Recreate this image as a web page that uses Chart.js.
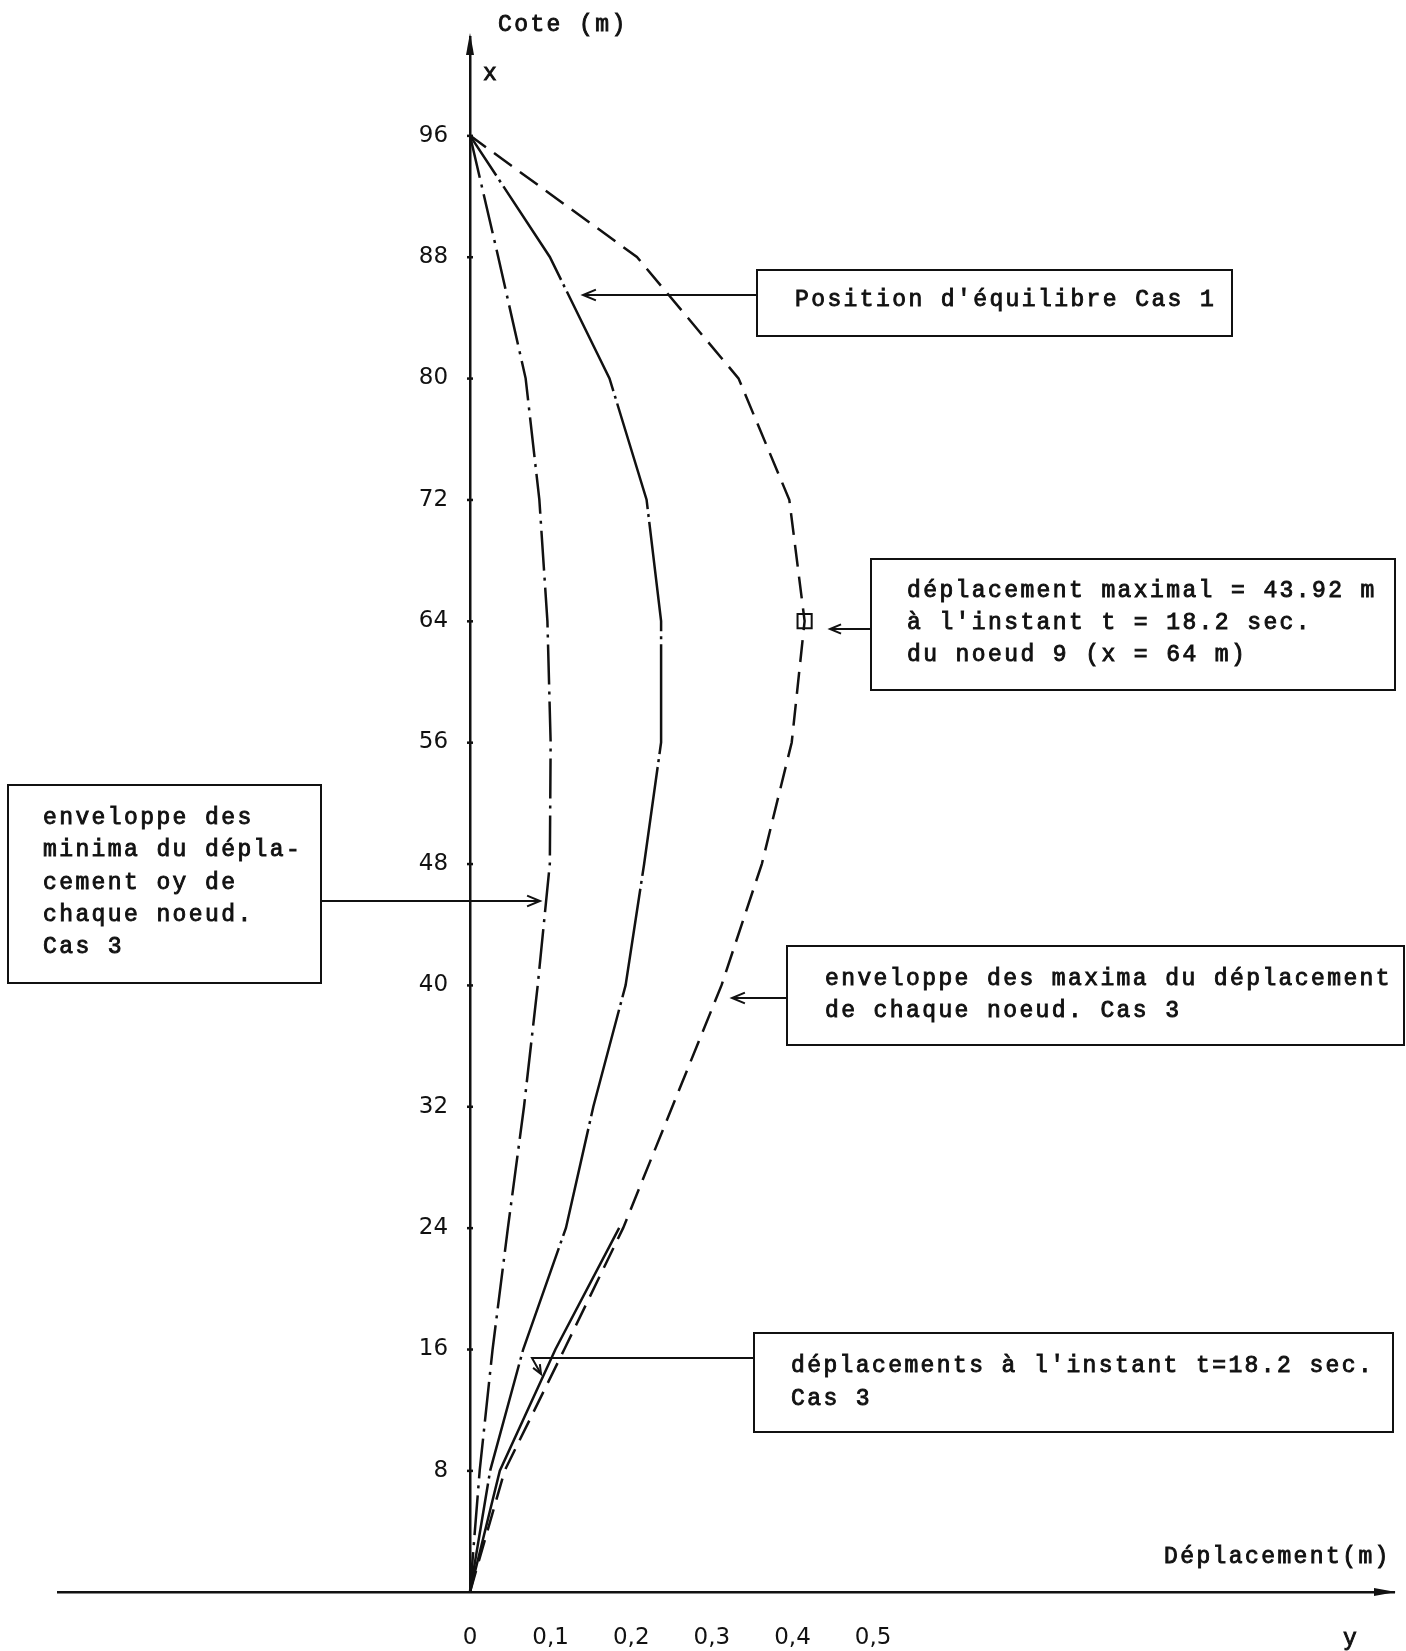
<!DOCTYPE html>
<html>
<head>
<meta charset="utf-8">
<title>Déplacements - Cas 1 / Cas 3</title>
<script src="https://cdn.jsdelivr.net/npm/chart.js@4/dist/chart.umd.min.js"></script>
<style>
  html, body { margin: 0; padding: 0; background: #fff; }
  #wrap { width: 1406px; height: 1651px; }
</style>
</head>
<body>
<div id="wrap"><canvas id="graphe" width="1406" height="1651"></canvas></div>
<script>
// cotes des noeuds (m)
const cotes = [0, 8, 16, 24, 32, 40, 48, 56, 64, 72, 80, 88, 96];
// enveloppe des minima du deplacement oy, Cas 3
const minima = [0, 0.012, 0.028, 0.047, 0.067, 0.084, 0.099, 0.100, 0.096, 0.086, 0.069, 0.035, 0];
// position d'equilibre, Cas 1
const equilibre = [0, 0.025, 0.066, 0.119, 0.153, 0.193, 0.216, 0.237, 0.237, 0.219, 0.173, 0.099, 0];
// enveloppe des maxima, Cas 3
const maxima = [0, 0.043, 0.117, 0.190, 0.251, 0.312, 0.362, 0.399, 0.415, 0.396, 0.333, 0.207, 0];
// deplacements a t = 18.2 s (Cas 3) - plus haut il se confond avec l'enveloppe des maxima
const cotesInstant = [0, 8, 16, 24];
const instant = [0, 0.037, 0.106, 0.185];
// deplacement maximal, noeud 9
const noeudMax = [{ x: 0.415, y: 64 }];

// graduations
const xTicks = [0, 0.1, 0.2, 0.3, 0.4, 0.5];
const xTickLabels = ['0', '0,1', '0,2', '0,3', '0,4', '0,5'];
const yTicks = [8, 16, 24, 32, 40, 48, 56, 64, 72, 80, 88, 96];

const points = (xs, ys) => xs.map((v, i) => ({ x: v, y: ys[i] }));

const MONO = '23px "Liberation Mono", "DejaVu Sans Mono", monospace';
const PAS = 16.2; // pas de la machine a ecrire

// texte caractere par caractere (chasse fixe large)
function texte(ctx, str, x, y) {
  for (let i = 0; i < str.length; i++) {
    ctx.fillText(str[i], x + i * PAS, y);
    ctx.strokeText(str[i], x + i * PAS, y);
  }
}

// fleche ouverte au dernier point
function fleche(ctx, pts, taille) {
  ctx.beginPath();
  ctx.moveTo(pts[0][0], pts[0][1]);
  for (let i = 1; i < pts.length; i++) ctx.lineTo(pts[i][0], pts[i][1]);
  ctx.stroke();
  const [xa, ya] = pts[pts.length - 2];
  const [xb, yb] = pts[pts.length - 1];
  const ang = Math.atan2(yb - ya, xb - xa);
  const t = taille || 14;
  ctx.beginPath();
  ctx.moveTo(xb - t * Math.cos(ang - 0.4), yb - t * Math.sin(ang - 0.4));
  ctx.lineTo(xb, yb);
  ctx.lineTo(xb - t * Math.cos(ang + 0.4), yb - t * Math.sin(ang + 0.4));
  ctx.stroke();
}

// pointe pleine allongee en bout d'axe
function pointe(ctx, x, y, dir) {
  ctx.beginPath();
  if (dir === 'haut') {
    ctx.moveTo(x, y); ctx.lineTo(x - 4, y + 22); ctx.lineTo(x + 4, y + 22);
  } else {
    ctx.moveTo(x, y); ctx.lineTo(x - 22, y - 4); ctx.lineTo(x - 22, y + 4);
  }
  ctx.closePath();
  ctx.fill();
}

const habillage = {
  id: 'habillage',
  afterDraw(chart) {
    const ctx = chart.ctx;
    const area = chart.chartArea;
    const x0 = chart.scales.x.getPixelForValue(0);
    const y0 = chart.scales.y.getPixelForValue(0);
    ctx.save();
    ctx.strokeStyle = '#111';
    ctx.fillStyle = '#111';

    // pointes des axes
    pointe(ctx, x0, area.top - 4, 'haut');
    pointe(ctx, area.right + 2, y0, 'droite');

    // petites marques sur l'axe vertical
    yTicks.forEach(v => {
      const py = chart.scales.y.getPixelForValue(v);
      ctx.fillRect(x0 - 3, py - 1, 6, 2.5);
    });

    // textes des axes
    ctx.font = MONO;
    ctx.lineWidth = 0.9;
    ctx.textBaseline = 'middle';
    ctx.textAlign = 'left';
    texte(ctx, 'Cote (m)', 498, 25);
    texte(ctx, 'x', 483, 74);
    texte(ctx, 'Déplacement(m)', 1164, 1557);
    texte(ctx, 'y', 1343, 1639);

    // cadres
    ctx.lineWidth = 2;
    ctx.strokeRect(757, 270, 475, 66);
    ctx.strokeRect(871, 559, 524, 131);
    ctx.strokeRect(8, 785, 313, 198);
    ctx.strokeRect(787, 946, 617, 99);
    ctx.strokeRect(754, 1333, 639, 99);

    // fleches de rappel
    fleche(ctx, [[757, 295], [583, 295]]);
    fleche(ctx, [[871, 629], [830, 629]], 12);
    fleche(ctx, [[321, 901], [540, 901]]);
    fleche(ctx, [[787, 998], [732, 998]]);
    fleche(ctx, [[754, 1358], [532, 1358], [541, 1374]], 10);

    // textes des cadres
    ctx.lineWidth = 0.9;
    texte(ctx, "Position d'équilibre Cas 1", 795, 300);
    texte(ctx, 'déplacement maximal = 43.92 m', 907, 591);
    texte(ctx, "à l'instant t = 18.2 sec.", 907, 623);
    texte(ctx, 'du noeud 9 (x = 64 m)', 907, 655);
    ['enveloppe des', 'minima du dépla-', 'cement oy de', 'chaque noeud.', 'Cas 3']
      .forEach((l, i) => texte(ctx, l, 43, 818 + i * 32.3));
    texte(ctx, 'enveloppe des maxima du déplacement', 825, 979);
    texte(ctx, 'de chaque noeud. Cas 3', 825, 1011);
    texte(ctx, "déplacements à l'instant t=18.2 sec.", 791, 1366);
    texte(ctx, 'Cas 3', 791, 1399);
    ctx.restore();
  }
};

const ctx = document.getElementById('graphe');
new Chart(ctx, {
  type: 'scatter',
  data: {
    datasets: [
      {
        label: 'enveloppe des minima (Cas 3)',
        data: points(minima, cotes),
        showLine: true,
        borderColor: '#111',
        borderWidth: 2.5,
        borderDash: [40, 7, 3, 7],
        pointRadius: 0
      },
      {
        label: "Position d'équilibre Cas 1",
        data: points(equilibre, cotes),
        showLine: true,
        borderColor: '#111',
        borderWidth: 2.5,
        borderDash: [110, 5, 3, 5],
        pointRadius: 0
      },
      {
        label: 'enveloppe des maxima (Cas 3)',
        data: points(maxima, cotes),
        showLine: true,
        borderColor: '#111',
        borderWidth: 2.5,
        borderDash: [22, 10],
        pointRadius: 0
      },
      {
        label: 'déplacements à t=18.2 sec. (Cas 3)',
        data: points(instant, cotesInstant),
        showLine: true,
        borderColor: '#111',
        borderWidth: 2.5,
        pointRadius: 0
      },
      {
        label: 'déplacement maximal',
        data: noeudMax,
        showLine: false,
        pointStyle: 'rect',
        pointRadius: 10,
        borderColor: '#111',
        borderWidth: 2,
        backgroundColor: '#fff'
      }
    ]
  },
  options: {
    responsive: false,
    devicePixelRatio: 1,
    animation: false,
    layout: { padding: { left: 58, right: 5, top: 37, bottom: 0 } },
    plugins: {
      legend: { display: false },
      tooltip: { enabled: false }
    },
    scales: {
      x: {
        type: 'linear',
        position: 'bottom',
        min: -0.511,
        max: 1.146,
        afterFit: s => { s.height = 59; },
        afterBuildTicks: s => { s.ticks = xTicks.map(v => ({ value: v })); },
        grid: { display: true, drawOnChartArea: false, drawTicks: false },
        border: { display: true, color: '#111', width: 2.5 },
        ticks: {
          padding: 32,
          maxRotation: 0,
          autoSkip: false,
          color: '#111',
          font: { family: '"DejaVu Sans", sans-serif', size: 23 },
          callback: (v, i) => xTickLabels[i]
        }
      },
      y: {
        type: 'linear',
        position: { x: 0 },
        min: 0,
        max: 102.5,
        afterFit: s => { s.width = 0; },
        afterBuildTicks: s => { s.ticks = yTicks.map(v => ({ value: v })); },
        grid: { display: true, drawOnChartArea: false, drawTicks: false },
        border: { display: true, color: '#111', width: 2.5 },
        ticks: {
          padding: 0,
          autoSkip: false,
          color: '#111',
          font: { family: '"DejaVu Sans", sans-serif', size: 23 },
          // espace pour ecarter le chiffre de l'axe
          callback: v => String(v) + '\u2007 '
        }
      }
    }
  },
  plugins: [habillage]
});
</script>
</body>
</html>
